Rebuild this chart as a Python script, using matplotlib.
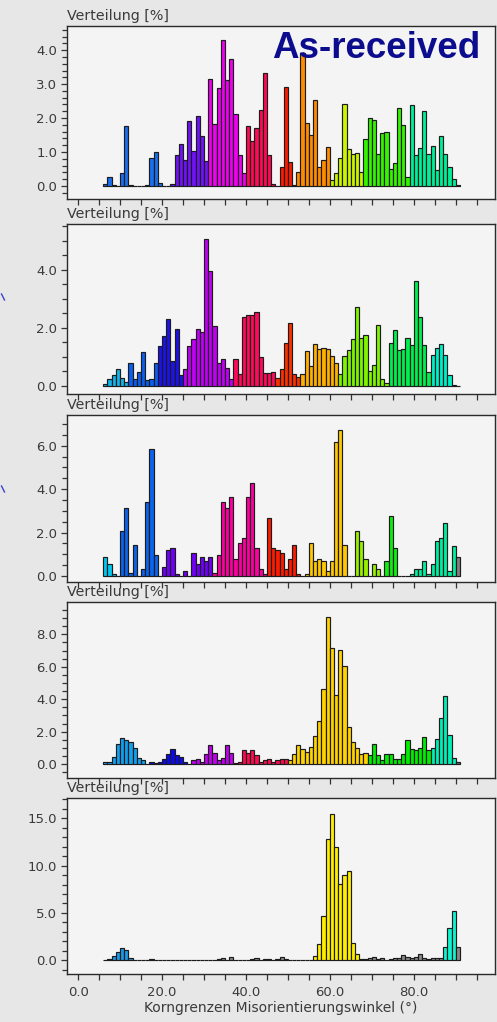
import numpy as np
import matplotlib
matplotlib.use("Agg")
import matplotlib.pyplot as plt
from matplotlib.ticker import MultipleLocator, FormatStrFormatter
from matplotlib.lines import Line2D

# ---------------- data ----------------
# misorientation-angle bins: 1 degree wide, first bin starts at 6 degrees
bin_start = 6.0
bin_width = 1.0
n_bins = 85
bin_left = bin_start + bin_width * np.arange(n_bins)

# distribution [%] per bin, one list per map (top to bottom)
dist_1 = [0.07, 0.27, 0.03, 0.0, 0.39, 1.76, 0.03, 0.0, 0.0, 0.0,
          0.03, 0.83, 1.00, 0.10, 0.0, 0.0, 0.07, 0.90, 1.23, 0.78,
          1.91, 1.04, 2.06, 1.48, 0.75, 3.15, 1.84, 2.89, 4.29, 3.11,
          3.73, 2.13, 0.90, 0.39, 1.76, 1.34, 1.70, 2.24, 3.32, 0.90,
          0.07, 0.0, 0.57, 2.92, 0.71, 0.03, 0.42, 3.92, 1.87, 1.51,
          2.53, 0.57, 0.78, 1.15, 0.17, 0.39, 0.82, 2.41, 1.08, 0.93,
          0.97, 0.42, 1.37, 1.99, 1.94, 0.93, 1.55, 1.59, 0.49, 0.68,
          2.31, 1.80, 0.27, 2.38, 0.90, 1.12, 2.20, 0.93, 1.19, 0.46,
          1.48, 0.93, 0.57, 0.21, 0.03]

dist_2 = [0.05, 0.22, 0.37, 0.56, 0.28, 0.14, 0.78, 0.23, 0.48, 1.17,
          0.18, 0.23, 0.78, 1.38, 1.72, 2.29, 0.86, 1.94, 0.37, 0.57,
          1.38, 1.60, 1.94, 1.84, 5.05, 3.95, 2.06, 0.78, 0.91, 0.62,
          0.23, 0.91, 0.40, 2.36, 2.45, 2.45, 2.53, 1.00, 0.45, 0.45,
          0.48, 0.28, 0.58, 1.48, 2.16, 0.41, 0.29, 0.41, 1.18, 0.68,
          1.44, 1.26, 1.31, 1.26, 1.01, 0.79, 0.41, 1.01, 1.22, 1.61,
          2.71, 1.64, 1.74, 0.49, 0.71, 2.11, 0.24, 0.08, 1.48, 1.91,
          1.22, 1.26, 1.66, 1.39, 3.61, 2.38, 1.39, 0.46, 1.06, 1.31,
          1.44, 1.06, 0.38, 0.03, 0.0]

dist_3 = [0.89, 0.55, 0.11, 0.0, 2.09, 3.12, 0.12, 1.42, 0.0, 0.34,
          3.40, 5.83, 0.97, 0.0, 0.43, 1.18, 1.29, 0.11, 0.0, 0.22,
          0.0, 1.06, 0.55, 0.89, 0.68, 0.89, 0.12, 0.97, 3.40, 3.12,
          3.63, 0.78, 1.52, 1.75, 3.63, 4.29, 1.29, 0.34, 0.11, 2.66,
          1.29, 1.18, 1.06, 0.34, 0.78, 1.42, 0.11, 0.0, 0.11, 1.52,
          0.68, 0.78, 0.68, 0.22, 0.68, 6.18, 6.74, 1.42, 0.0, 0.0,
          2.09, 1.63, 0.78, 0.0, 0.55, 0.34, 0.0, 0.68, 2.77, 1.29,
          0.0, 0.0, 0.0, 0.11, 0.34, 0.34, 0.68, 0.11, 0.55, 1.63,
          1.75, 2.43, 0.22, 1.40, 0.89]

dist_4 = [0.14, 0.14, 0.45, 1.21, 1.60, 1.46, 1.38, 0.99, 0.37, 0.23,
          0.0, 0.14, 0.08, 0.14, 0.31, 0.62, 0.90, 0.53, 0.45, 0.14,
          0.0, 0.23, 0.31, 0.14, 0.62, 1.15, 0.68, 0.23, 0.37, 1.15,
          0.68, 0.08, 0.14, 0.84, 0.68, 0.84, 0.53, 0.14, 0.23, 0.31,
          0.14, 0.23, 0.31, 0.31, 0.23, 0.62, 1.15, 0.90, 0.76, 1.07,
          1.75, 2.67, 4.65, 9.07, 7.18, 4.26, 7.02, 6.03, 2.28, 1.38,
          0.99, 0.62, 0.68, 0.53, 1.21, 0.53, 0.23, 0.62, 0.62, 0.31,
          0.31, 0.62, 1.46, 0.90, 0.84, 0.99, 1.69, 0.84, 0.99, 1.52,
          2.82, 4.18, 1.81, 0.37, 0.14]

dist_5 = [0.05, 0.10, 0.46, 0.92, 1.27, 1.06, 0.28, 0.0, 0.0, 0.0,
          0.0, 0.14, 0.0, 0.0, 0.0, 0.0, 0.0, 0.0, 0.0, 0.0,
          0.0, 0.0, 0.0, 0.0, 0.0, 0.0, 0.0, 0.10, 0.28, 0.0,
          0.39, 0.0, 0.0, 0.0, 0.0, 0.10, 0.28, 0.0, 0.10, 0.10,
          0.0, 0.10, 0.39, 0.14, 0.0, 0.0, 0.0, 0.0, 0.0, 0.0,
          0.46, 1.69, 4.68, 12.78, 15.49, 12.00, 8.06, 9.05, 9.40, 1.83,
          0.67, 0.10, 0.10, 0.28, 0.39, 0.14, 0.28, 0.0, 0.10, 0.28,
          0.28, 0.53, 0.39, 0.28, 0.39, 0.67, 0.28, 0.14, 0.28, 0.28,
          0.28, 1.44, 3.42, 5.18, 1.44]

distributions = [dist_1, dist_2, dist_3, dist_4, dist_5]

x_label = "Korngrenzen Misorientierungswinkel (°)"
y_label = "Verteilung [%]"
title_text = "As-received"

# ---------------- styling ----------------
# colour classes per map: (first bin, last bin, colour)
color_groups = [
    [(0, 15, '#1a6ff0'), (16, 24, '#7012f8'), (25, 33, '#ee00f0'),
     (34, 40, '#ff0a55'), (41, 45, '#ff1a00'), (46, 53, '#ff8c00'),
     (54, 61, '#ccf500'), (62, 72, '#33f500'), (73, 84, '#00f098')],
    [(0, 5, '#12b4ea'), (6, 12, '#0a5ff0'), (13, 18, '#1c12ea'),
     (19, 30, '#c000f5'), (31, 40, '#ff0a5a'), (41, 46, '#ff3000'),
     (47, 55, '#ffb000'), (56, 67, '#7ff500'), (68, 77, '#00f050'),
     (78, 84, '#00f0c8')],
    [(0, 2, '#00c8f0'), (3, 12, '#0a64f0'), (13, 25, '#7000f8'),
     (26, 38, '#ff00a0'), (39, 46, '#ff1a00'), (47, 57, '#ffc800'),
     (58, 65, '#99f000'), (66, 72, '#10ee10'), (73, 83, '#00f0a0'),
     (84, 84, '#808080')],
    [(0, 9, '#10a0f0'), (10, 19, '#0a0af0'), (20, 31, '#c000f0'),
     (32, 43, '#ff0a50'), (44, 62, '#ffd200'), (63, 77, '#00ee00'),
     (78, 83, '#00f0b8'), (84, 84, '#707070')],
    [(0, 6, '#1a9ae6'), (7, 49, '#888888'), (50, 60, '#ffee00'),
     (61, 80, '#888888'), (81, 83, '#10f5d0'), (84, 84, '#888888')],
]

W, H = 497, 1022
# axes boxes in pixels: (top, bottom)
boxes = [(26, 199.3), (224, 394.3), (415, 582), (602.3, 778.3), (798.3, 974.3)]
ax_left, ax_right = 67.3, 495
ylims = [(-0.39, 4.71), (-0.30, 5.58), (-0.28, 7.42), (-0.88, 9.98), (-1.48, 17.1)]
y_major = [1.0, 2.0, 2.0, 2.0, 5.0]
y_minor = [0.2, 0.5, 0.5, 0.5, 1.0]
xlim = (-2.57, 99.35)

text_col = '#3a3a3a'
fig = plt.figure(figsize=(W / 100, H / 100), dpi=100)
fig.patch.set_facecolor('#e7e7e7')

axes = []
for i, (top, bot) in enumerate(boxes):
    ax = fig.add_axes([ax_left / W, 1 - bot / H, (ax_right - ax_left) / W, (bot - top) / H])
    ax.set_facecolor('#f4f4f4')
    cols = ['#888888'] * n_bins
    for a, b, c in color_groups[i]:
        for k in range(a, b + 1):
            cols[k] = c
    ax.bar(bin_left, distributions[i], width=bin_width, align='edge',
           color=cols, edgecolor='#1c1c1c', linewidth=0.85, zorder=3)
    ax.set_xlim(*xlim)
    ax.set_ylim(*ylims[i])
    ax.yaxis.set_major_locator(MultipleLocator(y_major[i]))
    ax.yaxis.set_minor_locator(MultipleLocator(y_minor[i]))
    ax.yaxis.set_major_formatter(FormatStrFormatter('%.1f'))
    ax.xaxis.set_major_locator(MultipleLocator(20))
    ax.xaxis.set_minor_locator(MultipleLocator(5))
    ax.xaxis.set_major_formatter(FormatStrFormatter('%.1f'))
    ax.tick_params(axis='both', which='both', direction='out', color='#333333',
                   width=0.9, labelsize=9.5, labelcolor=text_col)
    ax.tick_params(axis='y', which='major', length=4.2, pad=3)
    ax.tick_params(axis='y', which='minor', length=3.6)
    ax.tick_params(axis='x', which='major', length=4.2, pad=4)
    ax.tick_params(axis='x', which='minor', length=4.0)
    if i < 4:
        ax.tick_params(axis='x', which='both', labelbottom=False)
    for s in ax.spines.values():
        s.set_color('#2a2a2a')
        s.set_linewidth(1.0)
    ax.annotate(y_label, xy=(0, 1), xycoords='axes fraction',
                xytext=(0, 2.3), textcoords='offset points',
                ha='left', va='bottom', fontsize=10.3, color=text_col)
    axes.append(ax)

axes[-1].set_xlabel(x_label, fontsize=10, color=text_col, labelpad=2)

fig.text(272 / W, 1 - 58.5 / H, title_text, fontsize=26.5, fontweight='bold',
         family='Liberation Sans', color='#0c0c8e', ha='left', va='baseline')

# small blue marks at the left border of the page
for yy in (297, 489):
    fig.add_artist(Line2D([1.5 / W, 4.5 / W], [1 - (yy - 3) / H, 1 - (yy + 3) / H],
                          color='#4040d0', lw=1.0))

fig.savefig('out.png', dpi=100, facecolor=fig.get_facecolor())
